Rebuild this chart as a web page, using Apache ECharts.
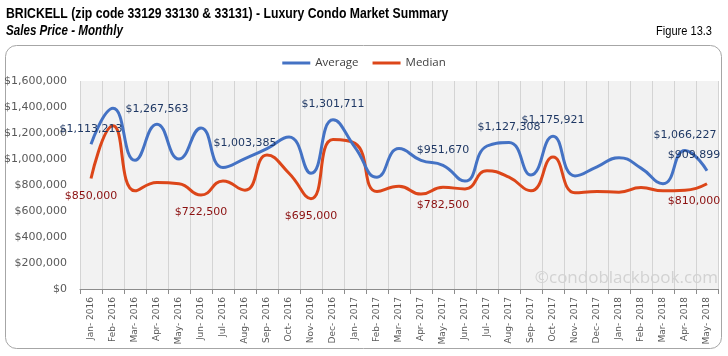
<!DOCTYPE html>
<html>
<head>
<meta charset="utf-8">
<script src="https://cdn.jsdelivr.net/npm/echarts@6/dist/echarts.min.js"></script>
<style>html,body{margin:0;padding:0;background:#fff}#c{width:728px;height:356px}</style>
</head>
<body>
<div id="c"></div>
<script>
const categories = ["Jan- 2016","Feb- 2016","Mar- 2016","Apr- 2016","May- 2016","Jun- 2016","Jul- 2016","Aug- 2016","Sep- 2016","Oct- 2016","Nov- 2016","Dec- 2016",
  "Jan- 2017","Feb- 2017","Mar- 2017","Apr- 2017","May- 2017","Jun- 2017","Jul- 2017","Aug- 2017","Sep- 2017","Oct- 2017","Nov- 2017","Dec- 2017",
  "Jan- 2018","Feb- 2018","Mar- 2018","Apr- 2018","May- 2018"];
const averageValues = [1113213,1390000,990000,1267563,1000000,1238000,935000,1003385,1080000,1170000,890000,1301711,
  1090000,860000,1080000,990000,951670,830000,1100000,1127308,877000,1175921,870000,940000,
  1010000,930000,810000,1066227,909899];
const medianValues = [850000,1255000,755000,820000,810000,722500,830000,760000,1030000,890000,695000,1150000,
  1120000,750000,790000,730000,782500,770000,910000,860000,755000,1015000,740000,750000,
  745000,780000,755000,760000,810000];
const averageLabelIdx = [0,3,7,11,16,19,21,27,28];
const medianLabelIdx = [0,5,10,16,28];
const yTicks = [0,200000,400000,600000,800000,1000000,1200000,1400000,1600000];
const titleText = 'BRICKELL (zip code 33129 33130 & 33131) - Luxury Condo Market Summary';
const subtitleText = 'Sales Price - Monthly';
const figureText = 'Figure 13.3';
const watermarkText = '©condoblackbook.com';

function money(v){ return '$' + Math.round(v).toLocaleString('en-US'); }

const avgData = averageValues.map((v,i)=>{
  const o = {value:v};
  if (averageLabelIdx.includes(i)) {
    o.label = {show:true, offset: i===28 ? [-13,0] : [0,0]};
  }
  return o;
});
const medData = medianValues.map((v,i)=>{
  const o = {value:v};
  if (medianLabelIdx.includes(i)) {
    o.label = {show:true, offset: i===28 ? [-13,0] : [0,0]};
  }
  return o;
});

const chart = echarts.init(document.getElementById('c'), null, {renderer:'canvas'});
chart.setOption({
  animation:false,
  backgroundColor:'#ffffff',
  graphic:[
    {type:'text', x:6, y:6, scaleX:0.815, originX:0, style:{text:titleText, fill:'#000', font:'bold 15px "Liberation Sans", Arial, sans-serif'}},
    {type:'text', x:6, y:24, scaleX:0.83, originX:0, style:{text:subtitleText, fill:'#000', font:'italic bold 14px "Liberation Sans", Arial, sans-serif'}},
    {type:'text', x:712, y:25, scaleX:0.85, originX:0, style:{text:figureText, fill:'#000', align:'right', font:'13px "Liberation Sans", Arial, sans-serif'}},
    {type:'rect', shape:{x:5.5,y:45.5,width:716,height:303,r:11}, style:{fill:'none', stroke:'#a6a6a6', lineWidth:1}, z:-1},
    {type:'text', x:718, y:270, style:{text:watermarkText, fill:'#d2d2d2', align:'right', font:'17px "Open Sans", "Liberation Sans", sans-serif'}, z:1}
  ],
  legend:{
    top:52, left:'center', itemWidth:28, itemHeight:3, itemGap:14, icon:'rect',
    textStyle:{fontFamily:'Open Sans, Liberation Sans, sans-serif', fontSize:11.5, color:'#404040'},
    data:['Average','Median']
  },
  grid:{left:80, right:10, top:81, bottom:67, show:true, backgroundColor:'#f2f2f2', borderWidth:0},
  xAxis:{
    type:'category', data:categories, boundaryGap:true,
    axisLine:{show:true, lineStyle:{color:'#8c8c8c', width:1}},
    axisTick:{show:true, interval:0, length:5, lineStyle:{color:'#8c8c8c'}},
    splitLine:{show:true, interval:0, lineStyle:{color:'#d4d4d4', width:1}},
    axisLabel:{interval:0, rotate:90, fontSize:9, color:'#595959', fontFamily:'DejaVu Sans, Verdana, sans-serif', margin:8}
  },
  yAxis:{
    type:'value', min:0, max:1600000, interval:200000,
    axisLine:{show:false}, axisTick:{show:false}, splitLine:{show:false},
    axisLabel:{color:'#595959', fontSize:11, fontFamily:'DejaVu Sans, Verdana, sans-serif', margin:13,
      formatter:(v)=> yTicks.includes(v) ? money(v) : ''}
  },
  series:[
    {name:'Average', type:'line', data:avgData, smooth:0.5, symbol:'circle', symbolSize:0, showSymbol:true,
     lineStyle:{width:3, color:'#4472c4'}, itemStyle:{color:'#4472c4'},
     label:{show:false, position:'top', distance:10, formatter:(p)=>money(p.value), color:'#1f3864', fontSize:11, fontFamily:'DejaVu Sans, Verdana, sans-serif'},
     z:3},
    {name:'Median', type:'line', data:medData, smooth:0.5, symbol:'circle', symbolSize:0, showSymbol:true,
     lineStyle:{width:3, color:'#dc4619'}, itemStyle:{color:'#dc4619'},
     label:{show:false, position:'bottom', distance:12, formatter:(p)=>money(p.value), color:'#8b1010', fontSize:11, fontFamily:'DejaVu Sans, Verdana, sans-serif'},
     z:2}
  ]
});
</script>
</body>
</html>
